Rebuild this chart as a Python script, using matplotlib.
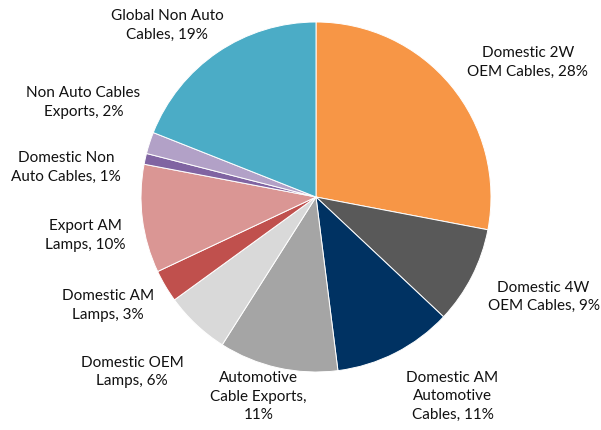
import matplotlib.pyplot as plt

labels = ["Domestic 2W\nOEM Cables, 28%", "Domestic 4W\nOEM Cables, 9%",
          "Domestic AM\nAutomotive\nCables, 11%", "Automotive\nCable Exports,\n11%",
          "Domestic OEM\nLamps, 6%", "Domestic AM\nLamps, 3%", "Export AM\nLamps, 10%",
          "Domestic Non\nAuto Cables, 1%", "Non Auto Cables\nExports, 2%",
          "Global Non Auto\nCables, 19%"]
shares = [28, 9, 11, 11, 6, 3, 10, 1, 2, 19]
colors = ["#F79646", "#595959", "#003262", "#A5A5A5", "#D9D9D9", "#C0504D",
          "#DA9694", "#8064A2", "#B2A1C7", "#4BACC6"]

# label centres, pie radius = 1
label_pos = [(1.21, 0.77), (1.30, -0.57), (0.78, -1.14), (-0.33, -1.14),
             (-1.05, -1.0), (-1.19, -0.62), (-1.32, -0.22), (-1.43, 0.17),
             (-1.33, 0.54), (-0.85, 0.98)]

plt.rcParams['font.family'] = ['Lato', 'DejaVu Sans']

fig = plt.figure(figsize=(6.01, 4.30), dpi=100)
ax = fig.add_axes([0, 0, 1, 1])
ax.pie(shares, colors=colors, startangle=90, counterclock=False, radius=1,
       wedgeprops=dict(edgecolor="white", linewidth=0.7))
for txt, (x, y) in zip(labels, label_pos):
    ax.text(x, y, txt, ha="center", va="center", fontsize=11,
            color="#111111", linespacing=1.4)

ax.set_aspect("auto")
ax.set_xlim(-316 / 175, (601 - 316) / 175)
ax.set_ylim((197 - 430) / 175, 197 / 175)
ax.axis("off")

fig.savefig("out.png", dpi=100)
